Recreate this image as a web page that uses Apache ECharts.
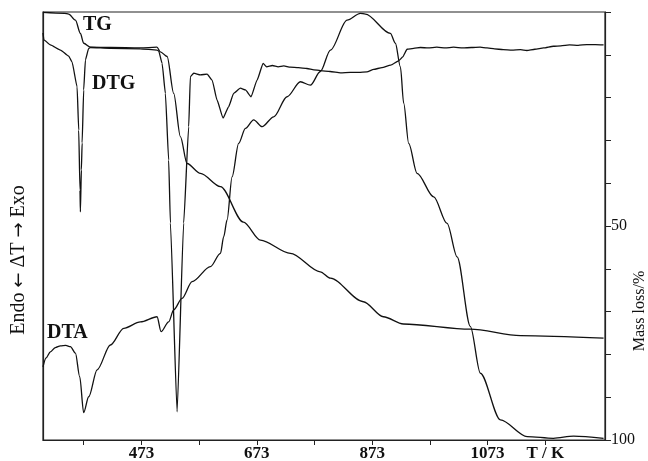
<!DOCTYPE html>
<html>
<head>
<meta charset="utf-8">
<script src="https://cdn.jsdelivr.net/npm/echarts@6/dist/echarts.min.js"></script>
<style>html,body{margin:0;padding:0;background:#fff}#c{width:648px;height:461px}</style>
</head>
<body>
<div id="c"></div>
<script>
// ---- data (T in K) ----
var tgT = [302.5, 340, 347, 358.7, 367.3, 373, 384.6, 420, 471, 500, 505.9, 517.6, 529, 540.6, 552.2, 575.3, 610, 649.8, 679.3, 731.2, 783, 800.6, 857.7, 892.4, 927.1, 1043, 1130, 1274];
var tgV = [0.1, 0.3, 0.5, 1.9, 5.0, 7.3, 8.2, 8.3, 8.4, 8.2, 9.3, 10.4, 19.0, 29.1, 35.4, 37.7, 40.8, 49.1, 53.3, 56.4, 60.7, 62.2, 67.7, 71.2, 72.9, 74.1, 75.6, 76.2];

var dtgT = [302.5, 304, 315.3, 332.7, 347, 352.9, 361.6, 364.4, 366.6, 367.3, 369, 370.3, 373, 376, 381.7, 384.6, 420, 471, 500, 503, 508.9, 514.6, 520.3, 523.3, 534.9, 546.3, 555, 557.9, 563.7, 575.3, 586.9, 595.6, 604.2, 614.6, 624.3, 632.9, 644.6, 653.3, 663.1, 673.5, 684, 690, 700, 710, 720, 731, 745, 760, 772, 783, 800, 818, 835, 850, 864, 875.6, 890, 905, 918.9, 926, 933.5, 945, 956.6, 970, 985, 1000, 1014, 1030, 1045, 1060, 1072, 1085, 1100, 1115, 1130, 1141, 1155, 1170, 1187, 1200, 1215, 1230, 1245, 1260, 1274];
var dtgV = [95.1, 93.5, 92.3, 91.1, 89.7, 88.3, 82.5, 72.4, 58.4, 53.3, 63.1, 69.4, 81.8, 88.8, 91.5, 91.7, 91.5, 91.4, 91.1, 90.9, 88.0, 81.0, 65.4, 50.7, 6.6, 50.7, 73.2, 84.9, 85.7, 85.3, 85.5, 84.1, 79.4, 75.2, 77.9, 81.0, 82.2, 81.8, 80.2, 84.1, 88.0, 87.2, 87.5, 87.2, 87.4, 87.1, 87.0, 86.8, 86.5, 86.3, 86.1, 85.8, 85.9, 85.9, 86.0, 86.6, 87.0, 87.6, 88.6, 89.5, 91.3, 91.5, 91.7, 91.6, 91.8, 91.6, 91.8, 91.6, 91.7, 91.8, 91.6, 91.4, 91.2, 91.1, 91.2, 91.0, 91.3, 91.6, 92.0, 92.1, 92.3, 92.2, 92.4, 92.4, 92.3];

var dtaT = [302.5, 308, 315.3, 324, 332.7, 342, 350, 358.7, 366.1, 373, 381.7, 396.3, 419.3, 442.4, 471.3, 500.2, 507.1, 520.3, 529, 543.5, 560.9, 592.6, 610, 615.7, 621.5, 630.2, 641.6, 653.3, 667.6, 682.2, 702.3, 725.5, 748.6, 765.9, 783.2, 800.6, 829.5, 852.5, 861.2, 904.5, 913.2, 921.9, 927.6, 936.3, 950.8, 979.6, 1002.8, 1020.2, 1043.2, 1060.5, 1095.2, 1141.5, 1187, 1222, 1274];
var dtaV = [17.1, 19.2, 20.6, 21.6, 22.0, 22.1, 21.8, 20.3, 14.8, 6.4, 10.1, 16.4, 22.2, 26.1, 27.6, 28.8, 25.3, 27.6, 30.4, 33.1, 37.0, 40.5, 43.6, 47.5, 51.4, 61.5, 69.3, 72.8, 74.8, 73.2, 75.5, 80.2, 83.7, 82.9, 86.1, 91.1, 98.1, 99.7, 99.5, 95.0, 92.7, 87.2, 78.7, 69.3, 62.3, 56.8, 50.6, 42.8, 26.5, 15.6, 4.7, 0.8, 0.4, 0.9, 0.4];

var xTickValues = [373, 473, 573, 673, 773, 873, 973, 1073, 1173];
var xLabelValues = [473, 673, 873, 1073, 1173];
var xLabelTexts = ['473', '673', '873', '1073', 'T / K'];
var massLabels = [50, 100];
var leftTitle = '{t|Endo }{a|\u2190}{t| \u0394T }{a|\u2192}{t| Exo}';
var rightTitle = 'Mass loss/%';

function zip(a, b) { return a.map(function (v, i) { return [v, b[i]]; }); }

var chart = echarts.init(document.getElementById('c'), null, { renderer: 'canvas' });
var serif = '"Liberation Serif", "DejaVu Serif", serif';
var lineStyle = { color: '#111', width: 1.3 };

chart.setOption({
  backgroundColor: '#fff',
  animation: false,
  grid: { left: 43, right: 43, top: 12, bottom: 21, show: true, borderColor: '#222', borderWidth: 1.2, containLabel: false, outerBoundsMode: 'none' },
  xAxis: {
    type: 'value', min: 302.5, max: 1276.5,
    axisLine: { show: true, lineStyle: { color: '#222', width: 1.2 } },
    axisTick: { show: true, customValues: xTickValues, length: 5, lineStyle: { color: '#222' } },
    axisLabel: {
      customValues: xLabelValues,
      formatter: function (v) { var i = xLabelValues.indexOf(v); return i >= 0 ? xLabelTexts[i] : ''; },
      fontFamily: serif, fontWeight: 'bold', fontSize: 17, color: '#111', margin: 5
    },
    splitLine: { show: false }
  },
  yAxis: [
    {
      type: 'value', min: 0, max: 100, position: 'left',
      axisLine: { show: true, lineStyle: { color: '#222', width: 1.2 } },
      axisTick: { show: false }, axisLabel: { show: false }, splitLine: { show: false }
    },
    {
      type: 'value', min: 0, max: 100, interval: 10, inverse: true, position: 'right',
      axisLine: { show: true, lineStyle: { color: '#222', width: 1.2 } },
      axisTick: { show: true, length: 6, lineStyle: { color: '#222' } },
      axisLabel: {
        formatter: function (v) { return massLabels.indexOf(v) >= 0 ? String(v) : ''; },
        fontFamily: serif, fontSize: 16, color: '#111', margin: 6
      },
      splitLine: { show: false }
    }
  ],
  graphic: [
    { type: 'text', left: 83, top: 15, style: { text: 'TG', font: 'bold 20px ' + serif, fill: '#111' } },
    { type: 'text', left: 92, top: 74, style: { text: 'DTG', font: 'bold 20px ' + serif, fill: '#111' } },
    { type: 'text', left: 47, top: 323, style: { text: 'DTA', font: 'bold 20px ' + serif, fill: '#111' } },
    { type: 'text', x: 19, y: 260, rotation: Math.PI / 2,
      style: { text: leftTitle, align: 'center', verticalAlign: 'middle', fill: '#111',
        rich: { t: { fontFamily: serif, fontSize: 20, fill: '#111' }, a: { fontFamily: '"DejaVu Sans", sans-serif', fontSize: 18, fill: '#111' } } } },
    { type: 'text', x: 640, y: 311, rotation: Math.PI / 2,
      style: { text: rightTitle, align: 'center', verticalAlign: 'middle', font: '16px ' + serif, fill: '#111' } }
  ],
  series: [
    { name: 'TG', type: 'line', yAxisIndex: 1, data: zip(tgT, tgV), showSymbol: false, smooth: 0.3, smoothMonotone: 'x', lineStyle: lineStyle },
    { name: 'DTG', type: 'line', yAxisIndex: 0, data: zip(dtgT, dtgV), showSymbol: false, smooth: 0.15, smoothMonotone: 'x', lineStyle: lineStyle },
    { name: 'DTA', type: 'line', yAxisIndex: 0, data: zip(dtaT, dtaV), showSymbol: false, smooth: 0.3, smoothMonotone: 'x', lineStyle: lineStyle }
  ]
});
</script>
</body>
</html>
